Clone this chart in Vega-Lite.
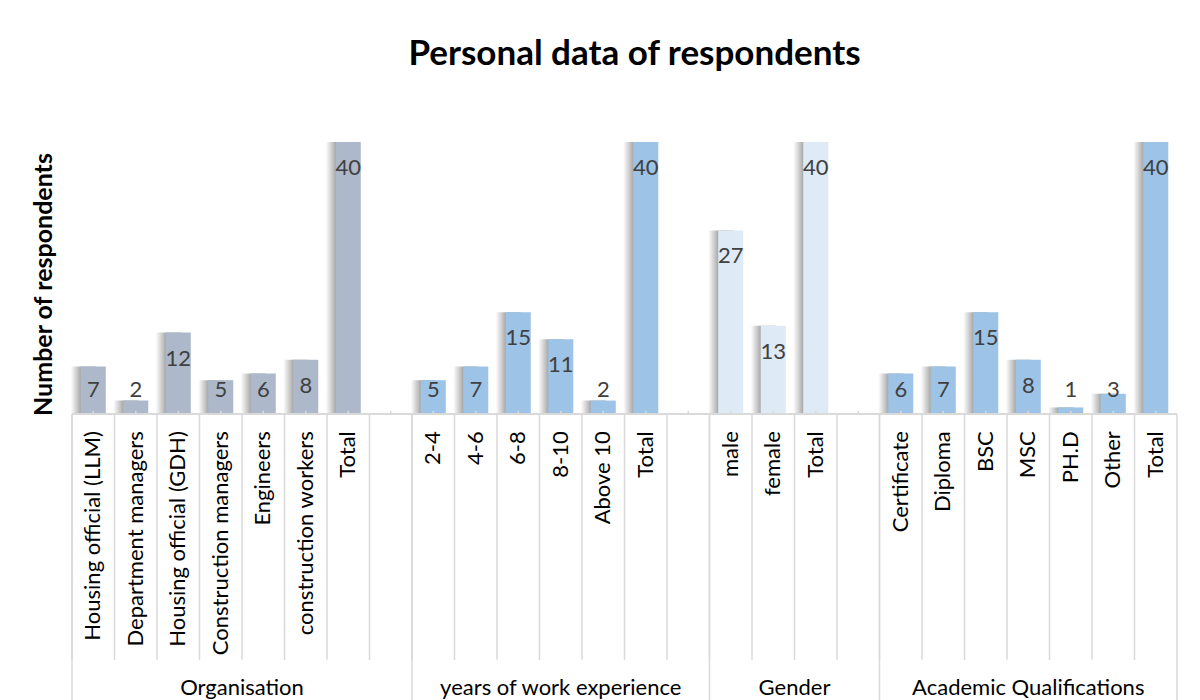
{
  "$schema": "https://vega.github.io/schema/vega-lite/v6.json",
  "width": 1105,
  "height": 592,
  "autosize": {"type": "none"},
  "padding": {"left": 72, "top": 108, "right": 23, "bottom": 0},
  "background": "white",
  "config": {"view": {"stroke": null}, "font": "Lato"},
  "title": {"text": "Personal data of respondents", "font": "Lato", "fontSize": 35, "fontWeight": "bold", "color": "#000000", "anchor": "middle", "frame": "group", "offset": 36, "dx": 10},
  "data": {"values": [
    {"slot": "Organisation|Housing official (LLM)", "group": "Organisation", "label": "Housing official (LLM)", "value": 7},
    {"slot": "Organisation|Department managers", "group": "Organisation", "label": "Department managers", "value": 2},
    {"slot": "Organisation|Housing official (GDH)", "group": "Organisation", "label": "Housing official (GDH)", "value": 12},
    {"slot": "Organisation|Construction managers", "group": "Organisation", "label": "Construction managers", "value": 5},
    {"slot": "Organisation|Engineers", "group": "Organisation", "label": "Engineers", "value": 6},
    {"slot": "Organisation|construction workers", "group": "Organisation", "label": "construction workers", "value": 8},
    {"slot": "Organisation|Total", "group": "Organisation", "label": "Total", "value": 40},
    {"slot": "Organisation|", "group": "Organisation", "label": "", "value": null},
    {"slot": "years|2-4", "group": "years of work experience", "label": "2-4", "value": 5},
    {"slot": "years|4-6", "group": "years of work experience", "label": "4-6", "value": 7},
    {"slot": "years|6-8", "group": "years of work experience", "label": "6-8", "value": 15},
    {"slot": "years|8-10", "group": "years of work experience", "label": "8-10", "value": 11},
    {"slot": "years|Above 10", "group": "years of work experience", "label": "Above 10", "value": 2},
    {"slot": "years|Total", "group": "years of work experience", "label": "Total", "value": 40},
    {"slot": "years|", "group": "years of work experience", "label": "", "value": null},
    {"slot": "Gender|male", "group": "Gender", "label": "male", "value": 27},
    {"slot": "Gender|female", "group": "Gender", "label": "female", "value": 13},
    {"slot": "Gender|Total", "group": "Gender", "label": "Total", "value": 40},
    {"slot": "Gender|", "group": "Gender", "label": "", "value": null},
    {"slot": "Academic|Certificate", "group": "Academic Qualifications", "label": "Certificate", "value": 6},
    {"slot": "Academic|Diploma", "group": "Academic Qualifications", "label": "Diploma", "value": 7},
    {"slot": "Academic|BSC", "group": "Academic Qualifications", "label": "BSC", "value": 15},
    {"slot": "Academic|MSC", "group": "Academic Qualifications", "label": "MSC", "value": 8},
    {"slot": "Academic|PH.D", "group": "Academic Qualifications", "label": "PH.D", "value": 1},
    {"slot": "Academic|Other", "group": "Academic Qualifications", "label": "Other", "value": 3},
    {"slot": "Academic|Total", "group": "Academic Qualifications", "label": "Total", "value": 40}
  ]},
  "encoding": {
    "x": {"field": "slot", "type": "nominal", "axis": null,
      "scale": {"paddingInner": 0, "paddingOuter": 0, "domain": [
        "Organisation|Housing official (LLM)", "Organisation|Department managers", "Organisation|Housing official (GDH)", "Organisation|Construction managers", "Organisation|Engineers", "Organisation|construction workers", "Organisation|Total", "Organisation|",
        "years|2-4", "years|4-6", "years|6-8", "years|8-10", "years|Above 10", "years|Total", "years|",
        "Gender|male", "Gender|female", "Gender|Total", "Gender|",
        "Academic|Certificate", "Academic|Diploma", "Academic|BSC", "Academic|MSC", "Academic|PH.D", "Academic|Other", "Academic|Total"]}}
  },
  "layer": [
    {
      "mark": {"type": "bar", "width": {"band": 0.59}, "xOffset": -10,
        "fill": {"gradient": "linear", "x1": 0, "y1": 0, "x2": 1, "y2": 0, "stops": [
          {"offset": 0, "color": "rgba(120,120,120,0)"},
          {"offset": 0.4, "color": "rgba(110,110,110,0.6)"},
          {"offset": 1, "color": "rgba(110,110,110,0.6)"}]}},
      "transform": [{"filter": "datum.value != null"}],
      "encoding": {
        "y": {"field": "value", "type": "quantitative", "scale": {"domain": [-42, 45], "nice": false, "zero": false},
          "axis": {"title": "Number of respondents", "labels": false, "ticks": false, "domain": false, "grid": false,
            "titleFont": "Lato", "titleFontSize": 25, "titleFontWeight": "bold", "titleColor": "#000000",
            "titleX": -29, "titleY": 176, "titleAlign": "center", "titleBaseline": "middle", "titleAngle": 270}}
      }
    },
    {
      "mark": {"type": "bar", "width": {"band": 0.59}},
      "transform": [{"filter": "datum.value != null"}],
      "encoding": {
        "y": {"field": "value", "type": "quantitative"},
        "color": {"field": "group", "type": "nominal", "legend": null,
          "scale": {"domain": ["Organisation", "years of work experience", "Gender", "Academic Qualifications"],
            "range": ["#ADB9CA", "#9DC3E6", "#DEEBF7", "#9DC3E6"]}}
      }
    },
    {
      "mark": {"type": "rule", "color": "#d9d9d9", "strokeWidth": 1.5},
      "encoding": {"x": null, "y": {"datum": 0}}
    },
    {
      "mark": {"type": "rule", "color": "#d9d9d9", "strokeWidth": 1.5},
      "encoding": {"x": {"field": "slot", "type": "nominal", "bandPosition": 0.5}, "y": {"datum": 0}, "y2": {"datum": 0.5}}
    },
    {
      "mark": {"type": "rule", "color": "#d9d9d9", "strokeWidth": 1.5},
      "encoding": {"x": {"field": "slot", "type": "nominal", "bandPosition": 0}, "y": {"datum": 0}, "y2": {"datum": -36.1}}
    },
    {
      "mark": {"type": "rule", "color": "#d9d9d9", "strokeWidth": 1.5},
      "transform": [{"filter": "indexof(['Organisation|Housing official (LLM)','years|2-4','Gender|male','Academic|Certificate'], datum.slot) >= 0"}],
      "encoding": {"x": {"field": "slot", "type": "nominal", "bandPosition": 0}, "y": {"datum": 0}, "y2": {"datum": -42}}
    },
    {
      "mark": {"type": "rule", "color": "#d9d9d9", "strokeWidth": 1.5},
      "transform": [{"filter": "datum.slot == 'Academic|Total'"}],
      "encoding": {"x": {"field": "slot", "type": "nominal", "bandPosition": 1}, "y": {"datum": 0}, "y2": {"datum": -42}}
    },
    {
      "mark": {"type": "text", "font": "Lato", "fontSize": 22, "color": "#404040", "baseline": "middle", "dy": 26},
      "transform": [{"filter": "datum.value != null && datum.value >= 8"}],
      "encoding": {"y": {"field": "value", "type": "quantitative"}, "text": {"field": "value", "type": "quantitative"}}
    },
    {
      "mark": {"type": "text", "font": "Lato", "fontSize": 22, "color": "#404040", "baseline": "middle"},
      "transform": [{"filter": "datum.value != null && datum.value < 8"}],
      "encoding": {"y": {"datum": 3.6}, "text": {"field": "value", "type": "quantitative"}}
    },
    {
      "mark": {"type": "text", "font": "Lato", "fontSize": 22, "color": "#000000", "angle": 270, "align": "right", "baseline": "middle"},
      "transform": [{"filter": "datum.label != ''"}],
      "encoding": {"y": {"datum": -2.5}, "text": {"field": "label", "type": "nominal"}}
    },
    {
      "mark": {"type": "text", "font": "Lato", "fontSize": 22, "color": "#000000", "align": "center", "baseline": "alphabetic"},
      "transform": [{"filter": "indexof(['Organisation|Engineers','Gender|Total'], datum.slot) >= 0"}],
      "encoding": {"x": {"field": "slot", "type": "nominal", "bandPosition": 0}, "y": {"datum": -41.3}, "text": {"field": "group", "type": "nominal"}}
    },
    {
      "mark": {"type": "text", "font": "Lato", "fontSize": 22, "color": "#000000", "align": "center", "baseline": "alphabetic"},
      "transform": [{"filter": "indexof(['years|8-10','Academic|MSC'], datum.slot) >= 0"}],
      "encoding": {"x": {"field": "slot", "type": "nominal", "bandPosition": 0.5}, "y": {"datum": -41.3}, "text": {"field": "group", "type": "nominal"}}
    }
  ]
}
